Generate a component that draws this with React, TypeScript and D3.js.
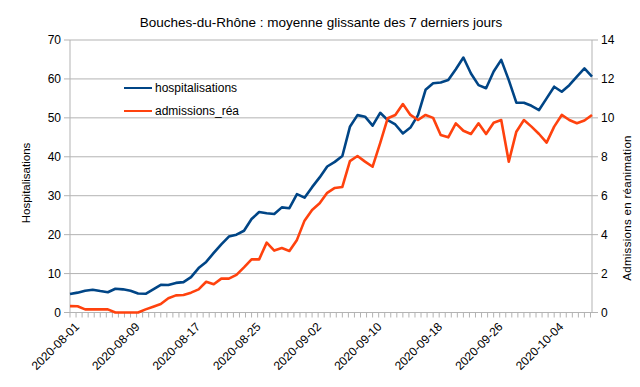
import React from "react";
import * as d3 from "d3";

const title = "Bouches-du-Rhône : moyenne glissante des 7 derniers jours";
const startDate = new Date(Date.UTC(2020, 7, 1));
const tickLabels = ["2020-08-01", "2020-08-09", "2020-08-17", "2020-08-25", "2020-09-02", "2020-09-10", "2020-09-18", "2020-09-26", "2020-10-04"];
const leftTicks = [0, 10, 20, 30, 40, 50, 60, 70];
const rightTicks = [0, 2, 4, 6, 8, 10, 12, 14];

const hospitalisations = [
  4.75, 5.1, 5.6, 5.86, 5.5, 5.2, 6.1, 5.95, 5.6, 4.9,
  4.8, 5.95, 7.1, 7.06, 7.6, 7.8, 9.1, 11.4, 13, 15.3,
  17.5, 19.5, 20, 21, 24, 25.8, 25.5, 25.3, 27, 26.8,
  30.4, 29.5, 32.2, 34.7, 37.5, 38.7, 40.2, 47.7, 50.7, 50.3,
  48, 51.3, 49.4, 48.3, 46, 47.5, 50.7, 57.2, 58.9, 59.1,
  59.7, 62.5, 65.5, 61.4, 58.4, 57.6, 61.9, 64.9, 59.7, 53.9,
  53.9, 53.1, 52, 55, 58, 56.7, 58.4, 60.6, 62.7, 60.6,
];
const admissionsRea = [
  0.33, 0.32, 0.16, 0.16, 0.16, 0.16, 0, 0, 0, 0,
  0.16, 0.3, 0.44, 0.73, 0.88, 0.9, 1.02, 1.19, 1.58, 1.45,
  1.74, 1.74, 1.93, 2.32, 2.73, 2.73, 3.59, 3.18, 3.31, 3.16,
  3.73, 4.72, 5.27, 5.61, 6.15, 6.4, 6.45, 7.78, 8.04, 7.75,
  7.49, 8.7, 9.98, 10.15, 10.71, 10.15, 9.89, 10.15, 10.0, 9.12,
  9.0, 9.72, 9.34, 9.17, 9.72, 9.17, 9.75, 9.89, 7.75, 9.29,
  9.89, 9.55, 9.17, 8.73, 9.55, 10.15, 9.89, 9.72, 9.86, 10.15,
];

const W = 640, H = 387;
const L = 70, R = 592, T = 40, B = 312.5;
const FONT = "'Liberation Sans', Arial, sans-serif";
const BLUE = "#004586", ORANGE = "#ff420e", GRID = "#b3b3b3";

export default function App() {
  const dates = hospitalisations.map((_, i) => d3.utcDay.offset(startDate, i));
  const x = d3.scaleUtc().domain([dates[0], dates[dates.length - 1]]).range([L, R]);
  const yL = d3.scaleLinear().domain([0, 70]).range([B, T]);
  const yR = d3.scaleLinear().domain([0, 14]).range([B, T]);

  const lineH = d3.line<number>().x((_, i) => x(dates[i])).y((d) => yL(d));
  const lineR = d3.line<number>().x((_, i) => x(dates[i])).y((d) => yR(d));

  const span = hospitalisations.length - 1;
  const minor: number[] = [];
  for (let k = 0; k * 0.8 <= span + 0.01; k++) minor.push(k * 0.8);
  const dayX = (v: number) => x(new Date(startDate.getTime() + v * 86400000));

  return (
    <svg width={W} height={H} style={{ position: "absolute", left: 0, top: 0, background: "#fff" }} fontFamily={FONT}>
      <rect x={0} y={0} width={W} height={H} fill="#fff" />
      <text x={321} y={27} textAnchor="middle" fontSize={13.5} fill="#000">{title}</text>

      {leftTicks.map((t) => (
        <g key={"g" + t}>
          <line x1={L} x2={R} y1={yL(t)} y2={yL(t)} stroke={GRID} strokeWidth={1} />
          <line x1={L - 6} x2={L} y1={yL(t)} y2={yL(t)} stroke={GRID} strokeWidth={1} />
          <text x={L - 9} y={yL(t)} dy="0.36em" textAnchor="end" fontSize={12} fill="#000">{t}</text>
        </g>
      ))}
      {rightTicks.map((t) => (
        <g key={"r" + t}>
          <line x1={R} x2={R + 6} y1={yR(t)} y2={yR(t)} stroke={GRID} strokeWidth={1} />
          <text x={R + 9} y={yR(t)} dy="0.36em" textAnchor="start" fontSize={12} fill="#000">{t}</text>
        </g>
      ))}
      <line x1={L} x2={L} y1={T} y2={B} stroke={GRID} strokeWidth={1} />
      <line x1={R} x2={R} y1={T} y2={B} stroke={GRID} strokeWidth={1} />
      <line x1={L} x2={R} y1={B} y2={B} stroke={GRID} strokeWidth={1} />
      {minor.map((m, i) => (
        <line key={"m" + i} x1={dayX(m)} x2={dayX(m)} y1={B} y2={B + 5} stroke={GRID} strokeWidth={1} />
      ))}
      {tickLabels.map((lab) => {
        const d = new Date(lab + "T00:00:00Z");
        const px = x(d);
        return (
          <text key={lab} transform={`translate(${px + 4},${B + 9}) rotate(-45)`} textAnchor="end" dy="0.7em" fontSize={12} fill="#000">{lab}</text>
        );
      })}

      <text transform={`translate(30,183) rotate(-90)`} textAnchor="middle" fontSize={11.5} fill="#000">Hospitalisations</text>
      <text transform={`translate(631,208) rotate(-90)`} textAnchor="middle" fontSize={11.5} fill="#000" letterSpacing={0.3}>Admissions en réanimation</text>

      <path d={lineH(hospitalisations) || ""} fill="none" stroke={BLUE} strokeWidth={2.6} strokeLinejoin="round" />
      <path d={lineR(admissionsRea) || ""} fill="none" stroke={ORANGE} strokeWidth={2.6} strokeLinejoin="round" />

      <line x1={124} x2={152} y1={88} y2={88} stroke={BLUE} strokeWidth={2} />
      <text x={155} y={88} dy="0.36em" fontSize={12} fill="#000">hospitalisations</text>
      <line x1={124} x2={152} y1={111} y2={111} stroke={ORANGE} strokeWidth={2} />
      <text x={155} y={111} dy="0.36em" fontSize={12} fill="#000">admissions_réa</text>
    </svg>
  );
}
